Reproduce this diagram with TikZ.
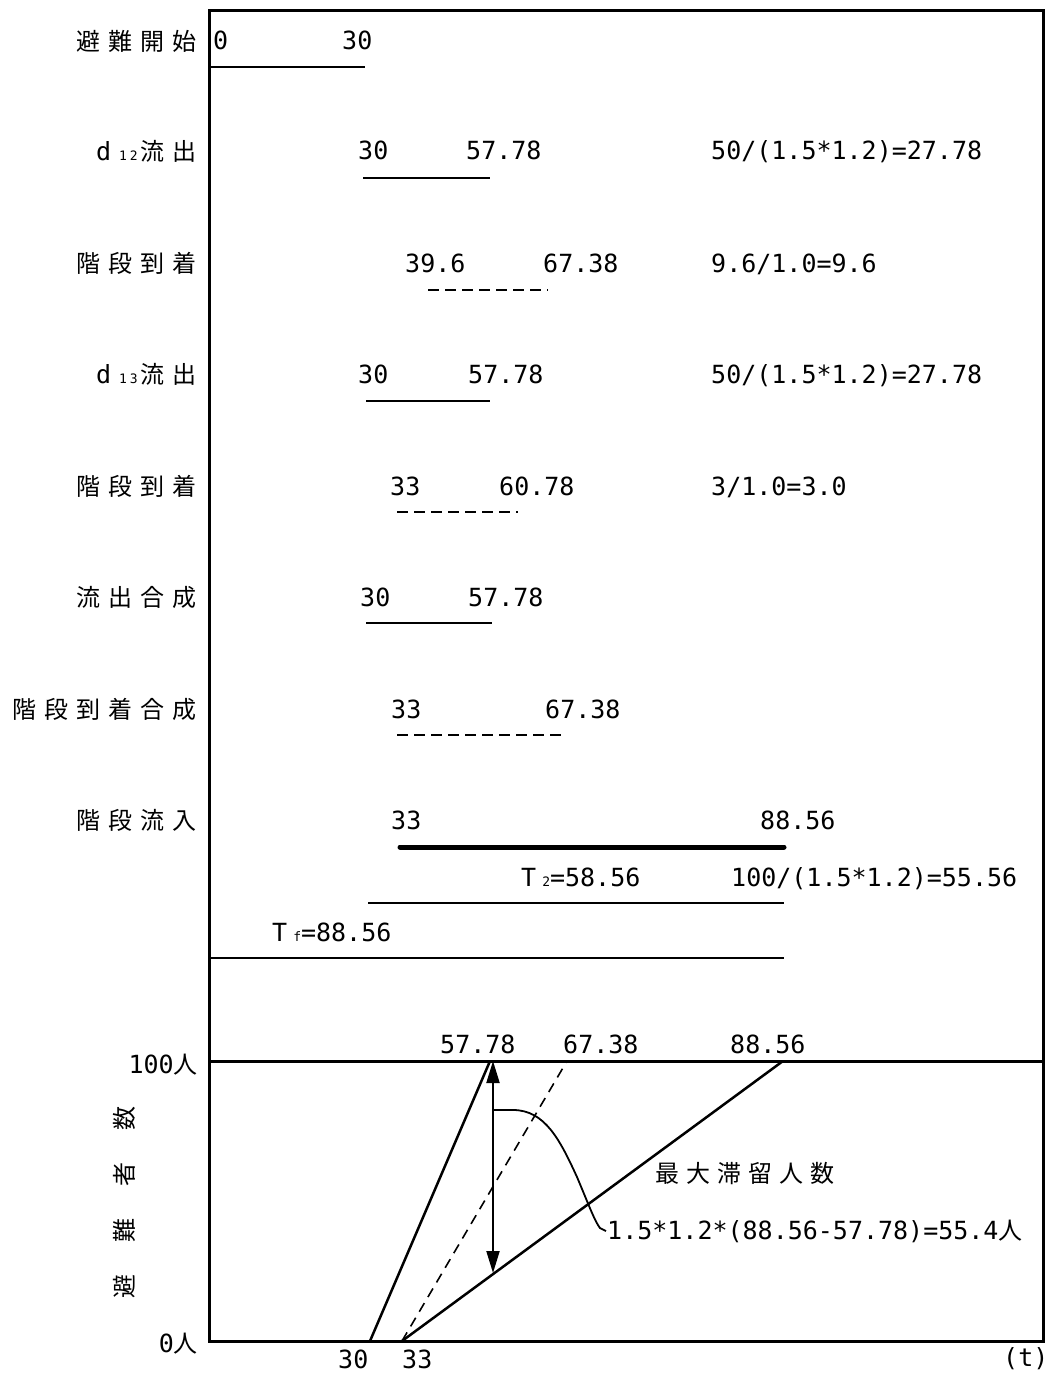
\documentclass[tikz,border=0pt]{standalone}
\usepackage{fontspec}
\usetikzlibrary{arrows.meta}
\newfontfamily\monofam{DejaVu Sans Mono}
\newfontfamily\jpfam{Noto Sans CJK JP}
\newcommand\numf{\monofam\fontsize{25}{25}\selectfont}
\newcommand\jpf{\jpfam\fontsize{24}{24}\selectfont}
\newcommand\subf{\monofam\fontsize{13}{13}\selectfont}
\newcommand\gp{\hspace{8pt}}
\tikzset{
  num/.style={inner sep=0pt, anchor=base west, font=\numf},
  lab/.style={inner sep=0pt, anchor=east, font=\jpf},
  jtxt/.style={inner sep=0pt, anchor=west, font=\jpf},
  frame/.style={line width=3pt},
  bar/.style={line width=1.5pt},
  dbar/.style={line width=1.8pt, dash pattern=on 11pt off 6pt},
  heavy/.style={line width=5pt, line cap=round},
  gline/.style={line width=2.5pt},
}
\begin{document}
\begin{tikzpicture}[x=1pt,y=-1pt]
\useasboundingbox (0,0) rectangle (1053,1375);
% frame
\draw[frame] (209,11) rectangle (1043,1341);
% row labels
\node[lab] (L1) at (197,41) {避\gp 難\gp 開\gp 始};
\node[lab] (L2) at (197,151) {{\numf d}\hspace{8pt}{\subf 1\hspace{3pt}2}\hspace{3pt}流\gp 出};
\node[lab] (L3) at (197,263) {階\gp 段\gp 到\gp 着};
\node[lab] (L4) at (197,374) {{\numf d}\hspace{8pt}{\subf 1\hspace{3pt}3}\hspace{3pt}流\gp 出};
\node[lab] (L5) at (197,486) {階\gp 段\gp 到\gp 着};
\node[lab] (L6) at (197,597) {流\gp 出\gp 合\gp 成};
\node[lab] (L7) at (197,709) {階\gp 段\gp 到\gp 着\gp 合\gp 成};
\node[lab] (L8) at (197,820) {階\gp 段\gp 流\gp 入};
% row 1
\node[num] (a1) at (213,50) {0};
\node[num] (b1) at (342,50) {30};
\draw[bar] (209,67) -- (365,67);
% row 2
\node[num] (a2) at (358,160) {30};
\node[num] (b2) at (466,160) {57.78};
\node[num] (c2) at (711,160) {50/(1.5*1.2)=27.78};
\draw[bar] (363,178) -- (490,178);
% row 3
\node[num] (a3) at (405,272) {39.6};
\node[num] (b3) at (543,272) {67.38};
\node[num] (c3) at (711,272) {9.6/1.0=9.6};
\draw[dbar] (428,290) -- (548,290);
% row 4
\node[num] (a4) at (358,383) {30};
\node[num] (b4) at (468,383) {57.78};
\node[num] (c4) at (711,383) {50/(1.5*1.2)=27.78};
\draw[bar] (366,401) -- (490,401);
% row 5
\node[num] (a5) at (390,495) {33};
\node[num] (b5) at (499,495) {60.78};
\node[num] (c5) at (711,495) {3/1.0=3.0};
\draw[dbar] (397,512) -- (518,512);
% row 6
\node[num] (a6) at (360,606) {30};
\node[num] (b6) at (468,606) {57.78};
\draw[bar] (366,623) -- (492,623);
% row 7
\node[num] (a7) at (391,718) {33};
\node[num] (b7) at (545,718) {67.38};
\draw[dbar] (397,735) -- (566,735);
% row 8
\node[num] (a8) at (391,829) {33};
\node[num] (b8) at (760,829) {88.56};
\draw[heavy] (400,847) -- (784,847);
% T2
\node[num] (t2) at (521,886) {T\hspace{6pt}{\subf 2}=58.56};
\node[num] (c9) at (731,886) {100/(1.5*1.2)=55.56};
\draw[bar] (368,903) -- (784,903);
% Tf
\node[num] (tf) at (272,941) {T\hspace{6pt}{\subf f}=88.56};
\draw[bar] (209,958) -- (784,958);
% graph
\draw[frame] (209,1061) -- (1043,1061);
\coordinate (p30) at (370,1341);
\coordinate (p33) at (402,1341);
\coordinate (q57) at (490,1061);
\coordinate (q67) at (567,1061);
\coordinate (q88) at (783,1061);
\draw[gline] (p30) -- (q57);
\draw[line width=1.6pt, dash pattern=on 10pt off 7pt] (p33) -- (q67);
\draw[gline] (p33) -- (q88);
\coordinate (ar1) at (493,1061);
\coordinate (ar2) at (493,1273);
\draw[line width=2pt, {Triangle[length=22pt,width=13pt]}-{Triangle[length=22pt,width=13pt]}] (ar1) -- (ar2);
\draw[line width=1.8pt] (493,1110) -- (513,1110) .. controls (545,1110) and (560,1140) .. (577,1177) .. controls (588,1203) and (595,1222) .. (600,1228) -- (606,1231);
% graph labels
\node[num] (g1) at (440,1053) {57.78};
\node[num] (g2) at (563,1053) {67.38};
\node[num] (g3) at (730,1053) {88.56};
\node[inner sep=0pt, anchor=base east] (y100) at (198,1073) {{\numf 100}{\jpf 人}};
\node[inner sep=0pt, anchor=base east] (y0) at (198,1352) {{\numf 0}{\jpf 人}};
\node[num] (x30) at (338,1368) {30};
\node[num] (x33) at (402,1368) {33};
\node[num] (xt) at (1003,1366) {(t)};
\node[jtxt] (mx) at (655,1174) {最\hspace{7pt}大\hspace{7pt}滞\hspace{7pt}留\hspace{7pt}人\hspace{7pt}数};
\node[inner sep=0pt, anchor=base west] (fm) at (607,1239) {{\numf 1.5*1.2*(88.56-57.78)=55.4}{\jpf 人}};
\node[inner sep=0pt, rotate=90, font=\jpf] (ylab) at (124,1202) {避\hspace{32pt}難\hspace{32pt}者\hspace{32pt}数};
\end{tikzpicture}
\end{document}
